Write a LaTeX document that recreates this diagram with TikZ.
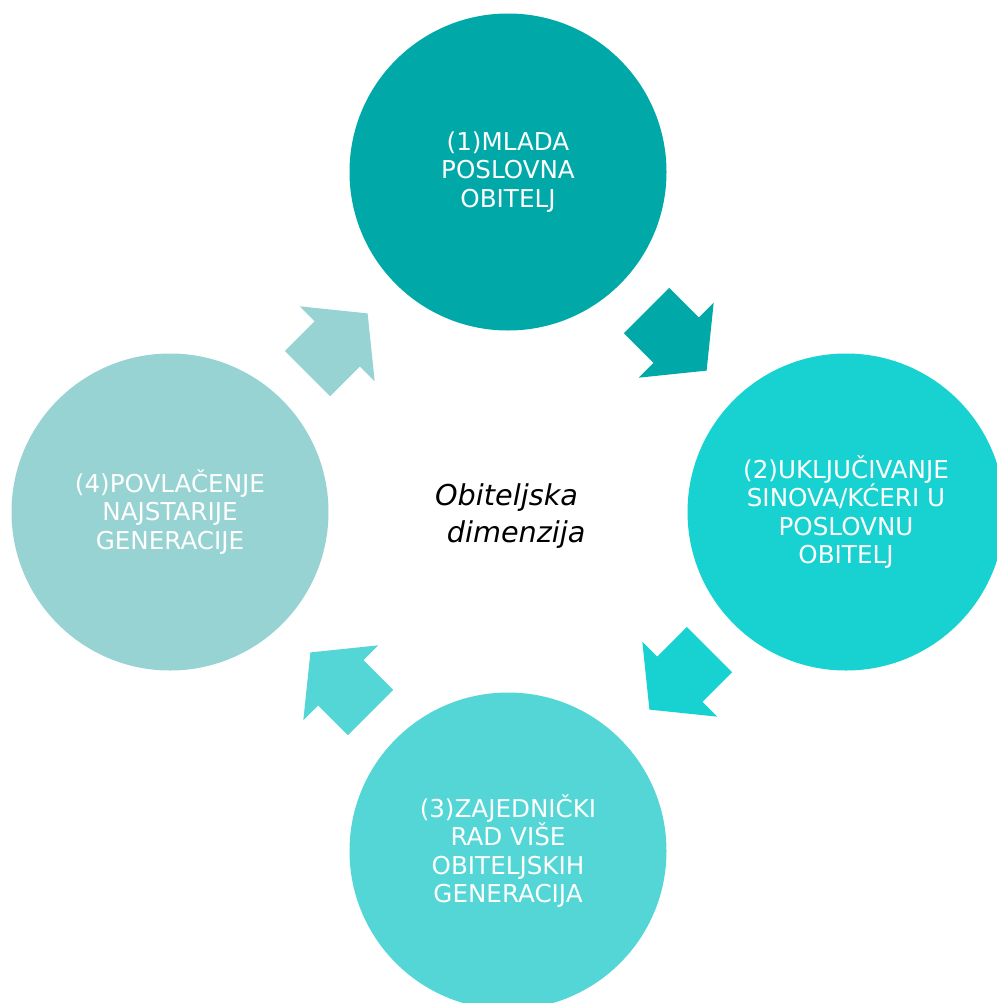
\documentclass[tikz,border=0pt]{standalone}
\usepackage{fontspec}
\setmainfont{DejaVu Sans}
\usetikzlibrary{positioning}

\definecolor{stepone}{HTML}{00A9A8}
\definecolor{steptwo}{HTML}{18D2D2}
\definecolor{stepthree}{HTML}{54D6D6}
\definecolor{stepfour}{HTML}{97D3D2}

\begin{document}
\begin{tikzpicture}[x=0.3mm, y=-0.3mm,
	every node/.style = {align=center},
	Phase/.style = {circle, minimum size=95.1mm, inner sep=0pt, text=white,
		font=\fontsize{21}{24.2}\selectfont},
	Turn/.pic = {\fill (0,32) -- (42,32) -- (42,53) -- (85,0)
		-- (42,-53) -- (42,-32) -- (0,-32) -- cycle;}
]
\useasboundingbox (0,0) rectangle (996,1003);
\coordinate (m) at (508,512);

\node[Phase, fill=stepone]   (young)  at (508,172) {(1)MLADA\\POSLOVNA\\OBITELJ};
\node[Phase, fill=steptwo]   (sons)   at (846,512) {(2)UKLJUČIVANJE\\SINOVA/KĆERI U\\POSLOVNU\\OBITELJ};
\node[Phase, fill=stepthree] (joint)  at (508,851) {(3)ZAJEDNIČKI\\RAD VIŠE\\OBITELJSKIH\\GENERACIJA};
\node[Phase, fill=stepfour]  (retire) at (170,512) {(4)POVLAČENJE\\NAJSTARIJE\\GENERACIJE};

\node[align=left, anchor=west, font=\itshape\fontsize{24.5}{32.3}\selectfont]
	(family) at (431,516) {Obiteljska\\\hspace*{10pt}dimenzija};

\pic[fill=stepone, rotate=-45]    at (646.5,310.5) {Turn};
\pic[fill=steptwo, rotate=-135]   at (709.5,649.5) {Turn};
\pic[fill=stepthree, rotate=135]  at (370.5,712.5) {Turn};
\pic[fill=stepfour, rotate=45]    at (307.5,373.5) {Turn};
\end{tikzpicture}
\end{document}
